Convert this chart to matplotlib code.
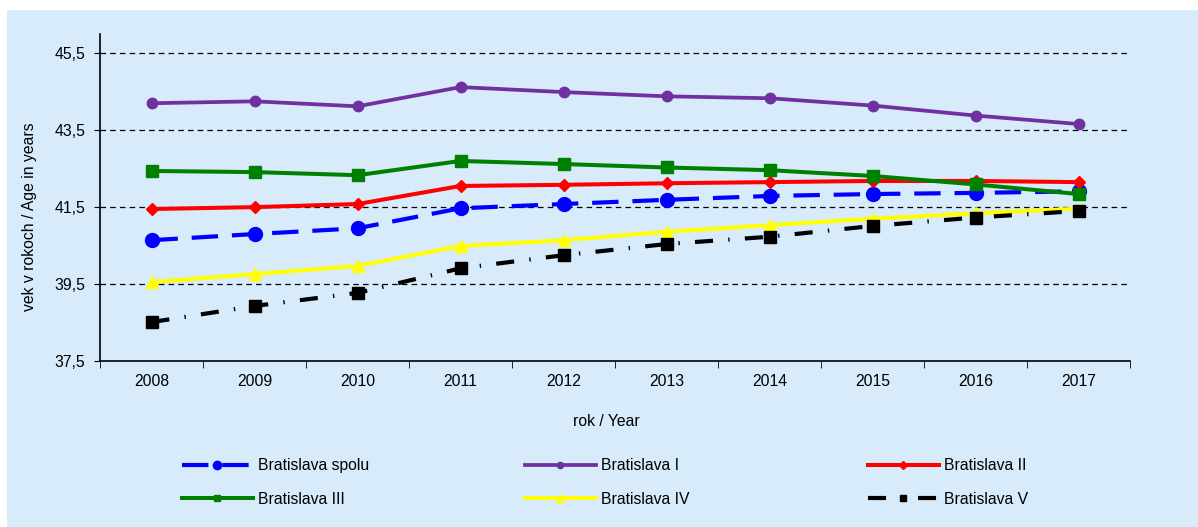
import matplotlib
matplotlib.use('Agg')
import matplotlib.pyplot as plt
from matplotlib.patches import Rectangle

plt.rcParams['font.family'] = ['Liberation Sans', 'DejaVu Sans']
plt.rcParams['lines.scale_dashes'] = False

years = ['2008', '2009', '2010', '2011', '2012', '2013', '2014', '2015', '2016', '2017']
spolu = [40.64, 40.80, 40.95, 41.47, 41.58, 41.69, 41.79, 41.84, 41.87, 41.91]
ba_1 = [44.20, 44.25, 44.12, 44.62, 44.49, 44.38, 44.33, 44.14, 43.88, 43.66]
ba_2 = [41.45, 41.50, 41.58, 42.05, 42.08, 42.12, 42.15, 42.18, 42.18, 42.15]
ba_3 = [42.44, 42.41, 42.33, 42.70, 42.62, 42.53, 42.46, 42.31, 42.09, 41.84]
ba_4 = [39.55, 39.76, 39.97, 40.49, 40.64, 40.86, 41.03, 41.20, 41.34, 41.46]
ba_5 = [38.51, 38.93, 39.27, 39.91, 40.25, 40.54, 40.73, 41.01, 41.23, 41.40]
y_ticks = [37.5, 39.5, 41.5, 43.5, 45.5]

fs = 11.3
bg = '#D7EBFA'
W, H = 1198, 527
fig = plt.figure(figsize=(W / 100, H / 100), dpi=100, facecolor='white')
# light blue panel behind the whole chart
fig.patches.append(Rectangle((7 / W, 0), 1 - 7 / W, 1 - 10 / H,
                             transform=fig.transFigure, facecolor=bg,
                             edgecolor='none', zorder=-10))

ax = fig.add_axes([100 / W, 1 - 361 / H, 1030 / W, 327 / H])
ax.set_facecolor(bg)
x = list(range(len(years)))

l0, = ax.plot(x, spolu, color='#0000FF', lw=3, dashes=(19, 10), marker='o', ms=10,
              label='Bratislava spolu', zorder=3)
l1, = ax.plot(x, ba_1, color='#7030A0', lw=2.7, marker='o', ms=7.5,
              label='Bratislava I', zorder=3)
l2, = ax.plot(x, ba_2, color='#FF0000', lw=2.9, marker='D', ms=6.5,
              label='Bratislava II', zorder=3)
l3, = ax.plot(x, ba_3, color='#008000', lw=2.9, marker='s', ms=8,
              label='Bratislava III', zorder=3)
l4, = ax.plot(x, ba_4, color='#FFFF00', lw=2.9, marker='^', ms=9,
              label='Bratislava IV', zorder=3)
l5, = ax.plot(x, ba_5, color='black', lw=3, dashes=(13, 11, 1, 11), marker='s', ms=8,
              label='Bratislava V', zorder=3)

ax.set_xlim(-0.5, len(years) - 0.5)
ax.set_ylim(37.5, 46.0)
ax.set_yticks(y_ticks)
ax.set_yticklabels([f'{v:.1f}'.replace('.', ',') for v in y_ticks])
ax.set_xticks(x)
ax.set_xticklabels(years)
ax.set_xticks([i - 0.5 for i in range(len(years) + 1)], minor=True)
ax.tick_params(axis='x', which='major', length=0, pad=9, labelsize=fs)
ax.tick_params(axis='x', which='minor', length=5, direction='out')
ax.tick_params(axis='y', length=4, direction='out', labelsize=fs, pad=6.5)

for v in y_ticks[1:]:
    ax.axhline(v, color='black', lw=0.9, ls=(0, (4, 3)), zorder=1)

for s in ['top', 'right']:
    ax.spines[s].set_visible(False)
ax.spines['left'].set_linewidth(1.2)
ax.spines['bottom'].set_linewidth(1.2)

# axis titles placed where the original has them
fig.text(606 / W, 1 - 422 / H, 'rok / Year', fontsize=fs, ha='center', va='center')
fig.text(30 / W, 1 - 217 / H, 'vek v rokoch / Age in years', fontsize=fs,
         ha='center', va='center', rotation=90)

# three legend columns, filled row by row like the original
columns = [([l0, l3], 182), ([l1, l4], 525), ([l2, l5], 868)]
for handles, left in columns:
    fig.legend(handles=handles, loc='upper left',
               bbox_to_anchor=(left / W, 1 - 458 / H),
               frameon=False, fontsize=fs, handlelength=4.5,
               handletextpad=0.35, labelspacing=1.2, borderaxespad=0,
               borderpad=0, markerscale=0.6)

fig.savefig('out.png', dpi=100, facecolor='white')
